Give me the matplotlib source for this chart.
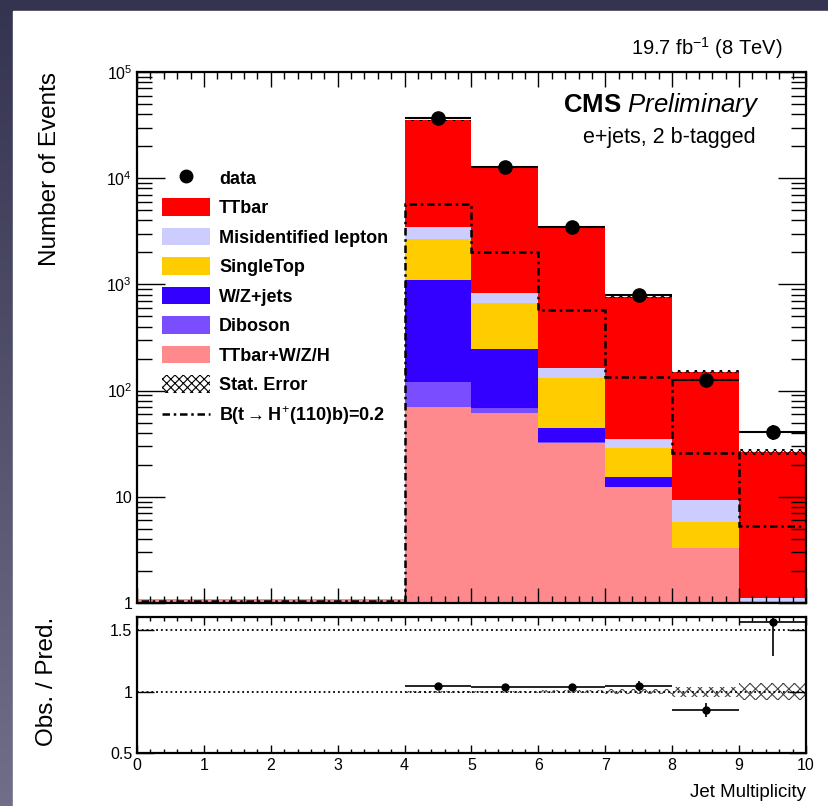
import matplotlib
matplotlib.use('Agg')
import matplotlib.pyplot as plt
import numpy as np
from matplotlib.patches import Rectangle, Patch
from matplotlib.lines import Line2D
from matplotlib.ticker import FixedLocator, NullFormatter, MultipleLocator

plt.rcParams['font.family'] = ['Liberation Sans', 'DejaVu Sans']
plt.rcParams['mathtext.fontset'] = 'custom'
plt.rcParams['mathtext.rm'] = 'Liberation Sans'
plt.rcParams['mathtext.it'] = 'Liberation Sans:italic'
plt.rcParams['mathtext.bf'] = 'Liberation Sans:bold'
plt.rcParams['hatch.linewidth'] = 0.8

# jet multiplicity bins 0..10
edges = np.arange(0, 11)
centers = edges[:-1] + 0.5

# stacked MC, bottom to top
ttv = [1.1, 1.1, 1.1, 1.1, 70, 62, 32, 12.3, 3.3, 1.04]
diboson = [0, 0, 0, 0, 51, 7, 0.6, 0, 0, 0]
wzjets = [0, 0, 0, 0, 980, 180, 12, 3.2, 0, 0]
singletop = [0, 0, 0, 0, 1560, 415, 87, 13.5, 2.5, 0]
misid = [0, 0, 0, 0, 840, 160, 31, 5.8, 3.5, 0.07]
ttbar = [0, 0, 0, 0, 31500, 11700, 3260, 730, 142, 25.5]

# data (bins 4..9)
data_x = [4.5, 5.5, 6.5, 7.5, 8.5, 9.5]
data_y = [36500, 12800, 3500, 790, 126, 41]
data_err = [190, 113, 59, 28, 11, 6.4]

# stat. error (relative) for bins 4..9
stat_rel = [0.01, 0.01, 0.012, 0.02, 0.04, 0.07]

# signal B(t->H+(110)b)=0.2
signal = [1.04, 1.04, 1.04, 1.04, 5700, 2030, 574, 135, 25.7, 5.3]

# ratio panel (obs / pred)
ratio_y = [1.05, 1.04, 1.04, 1.05, 0.85, 1.57]
ratio_err = [0.012, 0.015, 0.02, 0.04, 0.06, 0.28]

labels = ['TTbar+W/Z/H', 'Diboson', 'W/Z+jets', 'SingleTop', 'Misidentified lepton', 'TTbar']
colors = ['#ff8a8e', '#7a4dff', '#3300ff', '#ffcc00', '#ccccff', '#ff0000']
stack = [ttv, diboson, wzjets, singletop, misid, ttbar]

W, H = 829, 806
fig = plt.figure(figsize=(W / 100, H / 100), dpi=100)

# slide background gradient + white page
bg = fig.add_axes([0, 0, 1, 1], zorder=-10)
grad = np.linspace(0, 1, 256).reshape(-1, 1)
c1 = np.array([0x35, 0x34, 0x50]) / 255
c2 = np.array([0x70, 0x6e, 0x88]) / 255
img = c1 + (c2 - c1) * grad[:, :, None]
bg.imshow(img, aspect='auto', extent=[0, 1, 0, 1], origin='upper')
bg.add_patch(Rectangle((13 / W, 0), 1, 1 - 11 / H, color='white'))
bg.set_xlim(0, 1)
bg.set_ylim(0, 1)
bg.axis('off')

ax = fig.add_axes([137 / W, 1 - 603 / H, 669 / W, 531 / H])
rax = fig.add_axes([137 / W, 1 - 753 / H, 669 / W, 136 / H])

# stacked histogram
bottom = np.full(10, 1e-3)
for vals, col in zip(stack, colors):
    vals = np.array(vals, dtype=float)
    ax.stairs(bottom + vals, edges, baseline=bottom.copy(), fill=True, color=col, lw=0)
    bottom = bottom + vals
total = bottom

# stat error band
tot4 = total[4:]
rel = np.array(stat_rel)
ax.bar(centers[4:], 2 * tot4 * rel, bottom=tot4 * (1 - rel), width=1, fill=False,
       hatch='xxxx', edgecolor='black', linewidth=0)

# signal
ax.stairs(signal, edges, color='black', lw=1.8, linestyle=(0, (3, 1.5, 1, 1.5)))

# data
ax.errorbar(data_x, data_y, xerr=0.5, yerr=data_err, fmt='o', color='black',
            ms=9.5, elinewidth=1.5, capsize=0)

ax.set_yscale('log')
ax.set_xlim(0, 10)
ax.set_ylim(1, 1e5)
ax.yaxis.set_major_locator(FixedLocator([1, 10, 100, 1e3, 1e4, 1e5]))
ax.set_yticklabels(['1', '10', r'$\mathregular{10^{2}}$', r'$\mathregular{10^{3}}$',
                    r'$\mathregular{10^{4}}$', r'$\mathregular{10^{5}}$'])
minors = [m * 10 ** d for d in range(0, 5) for m in range(2, 10)]
ax.yaxis.set_minor_locator(FixedLocator(minors))
ax.yaxis.set_minor_formatter(NullFormatter())
ax.xaxis.set_major_locator(MultipleLocator(1))
ax.xaxis.set_minor_locator(MultipleLocator(0.2))
ax.tick_params(which='both', direction='in', top=True, right=True, labelbottom=False)
ax.tick_params(axis='y', which='major', length=20, width=1, labelsize=11.5)
ax.tick_params(axis='y', which='minor', length=11, width=1)
ax.tick_params(axis='x', which='major', length=11, width=1)
ax.tick_params(axis='x', which='minor', length=5, width=1)
for s in ax.spines.values():
    s.set_linewidth(1.6)
ax.set_ylabel('Number of Events', fontsize=17.5, loc='top', labelpad=33)

# legend
handles = [Line2D([], [], marker='o', color='black', ls='none', ms=9)]
for lab, col in zip(labels[::-1], colors[::-1]):
    handles.append(Patch(facecolor=col, edgecolor='none'))
handles.append(Patch(facecolor='none', edgecolor='black', hatch='xxxx', lw=0))
handles.append(Line2D([], [], color='black', lw=1.8, ls=(0, (3, 1.5, 1, 1.5))))
leg_labels = ['data'] + labels[::-1] + ['Stat. Error', r'B(t$\rightarrow$H$^{+}$(110)b)=0.2']
leg = ax.legend(handles, leg_labels, loc='upper left', bbox_to_anchor=(0.027, 0.831),
                frameon=False, fontsize=13, handlelength=2.66, handleheight=1.1,
                labelspacing=0.59, handletextpad=0.48, borderaxespad=0)
for t in leg.get_texts():
    t.set_fontweight('bold')

# texts
fig.text(783 / W, 1 - 55 / H, r'19.7 fb$^{-1}$ (8 TeV)', ha='right', va='baseline', fontsize=14.5)
ax.text(0.93, 0.925, r'$\mathbf{CMS}$ $\mathit{Preliminary}$', transform=ax.transAxes,
        ha='right', va='baseline', fontsize=18.5)
ax.text(0.925, 0.866, 'e+jets, 2 b-tagged', transform=ax.transAxes,
        ha='right', va='baseline', fontsize=15.5)

# ratio panel
rax.axhline(1.5, color='black', ls=':', lw=1.3)
rax.axhline(1.0, color='black', ls=':', lw=1.3)
rax.bar(centers[4:], 2 * rel, bottom=1 - rel, width=1, fill=False,
        hatch='xxx', edgecolor='#444444', linewidth=0)
rax.errorbar(data_x, ratio_y, xerr=0.5, yerr=ratio_err, fmt='o', color='black',
             ms=5, elinewidth=1.2, capsize=0)
rax.set_xlim(0, 10)
rax.set_ylim(0.5, 1.61)
rax.set_yticks([0.5, 1, 1.5])
rax.set_yticklabels(['0.5', '1', '1.5'])
rax.xaxis.set_major_locator(MultipleLocator(1))
rax.xaxis.set_minor_locator(MultipleLocator(0.2))
rax.tick_params(which='both', direction='in', top=True, right=True, labelsize=11.5)
rax.tick_params(axis='y', which='major', length=12, width=1)
rax.tick_params(axis='y', which='minor', length=0)
rax.tick_params(axis='x', which='major', length=6, width=1)
rax.tick_params(axis='x', which='minor', length=3, width=1)
for s in rax.spines.values():
    s.set_linewidth(1.6)
rax.set_ylabel('Obs. / Pred.', fontsize=17.5, loc='top', labelpad=37)
rax.set_xlabel('Jet Multiplicity', fontsize=13.5, loc='right', labelpad=8)

fig.savefig('out.png', dpi=100)
